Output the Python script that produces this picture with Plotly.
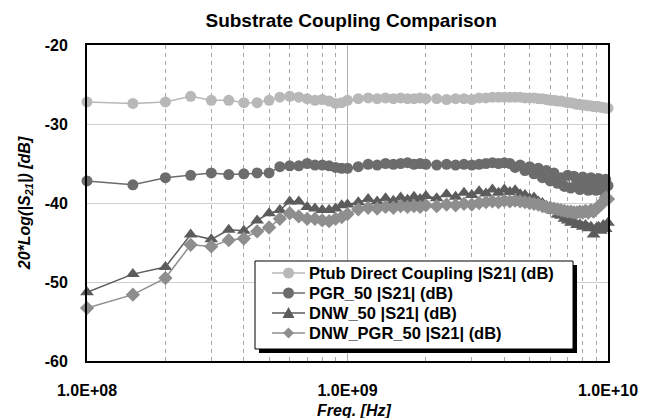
import plotly.graph_objects as go

freq_hz = [1.0e8, 1.5e8, 2.0e8, 2.5e8, 3.0e8, 3.5e8, 4.0e8, 4.5e8, 5.0e8, 5.5e8,
           6.0e8, 6.5e8, 7.0e8, 7.5e8, 8.0e8, 8.5e8, 9.0e8, 9.5e8, 1.0e9,
           1.1e9, 1.2e9, 1.3e9, 1.4e9, 1.5e9, 1.6e9, 1.7e9, 1.8e9, 1.9e9, 2.0e9,
           2.2e9, 2.4e9, 2.6e9, 2.8e9, 3.0e9, 3.2e9, 3.4e9, 3.6e9, 3.8e9, 4.0e9,
           4.2e9, 4.4e9, 4.6e9, 4.8e9, 5.0e9, 5.2e9, 5.4e9, 5.6e9, 5.8e9, 6.0e9,
           6.2e9, 6.4e9, 6.6e9, 6.8e9, 7.0e9, 7.2e9, 7.4e9, 7.6e9, 7.8e9, 8.0e9,
           8.2e9, 8.4e9, 8.6e9, 8.8e9, 9.0e9, 9.2e9, 9.4e9, 9.6e9, 9.8e9, 1.0e10]

ptub = [-27.2, -27.4, -27.2, -26.5, -27.0, -27.0, -27.3, -27.3, -27.0, -26.6,
        -26.5, -26.6, -26.8, -27.0, -26.9, -27.1, -27.4, -27.3, -27.0,
        -26.8, -26.7, -26.8, -26.7, -26.8, -26.7, -26.8, -26.8, -26.7, -26.8,
        -26.8, -26.9, -26.8, -26.8, -26.9, -26.7, -26.7, -26.6, -26.6, -26.6,
        -26.6, -26.6, -26.6, -26.7, -26.7, -26.7, -26.8, -26.8, -26.9, -27.0,
        -27.0, -27.1, -27.1, -27.2, -27.3, -27.3, -27.4, -27.5, -27.5, -27.6,
        -27.6, -27.7, -27.7, -27.8, -27.8, -27.8, -27.9, -27.9, -28.0, -28.0]

pgr50 = [-37.2, -37.7, -36.8, -36.5, -36.2, -36.4, -36.3, -36.2, -36.2, -35.4,
         -35.3, -35.3, -35.0, -35.2, -35.2, -35.3, -35.5, -35.6, -35.6,
         -35.4, -35.1, -35.2, -35.0, -35.1, -35.0, -34.9, -35.1, -35.0, -35.1,
         -35.2, -35.1, -35.2, -35.1, -35.2, -35.1, -35.0, -34.9, -35.0, -34.9,
         -35.0, -35.5, -35.2, -35.9, -35.4, -36.3, -35.6, -36.8, -35.9, -37.2,
         -36.2, -37.5, -36.8, -37.9, -36.5, -38.1, -36.6, -37.5, -38.3, -36.7,
         -37.6, -38.4, -36.8, -37.7, -38.4, -36.9, -37.8, -38.5, -37.0, -37.8]

dnw50 = [-51.3, -49.0, -48.1, -44.0, -44.6, -43.4, -43.5, -42.2, -41.3, -40.9,
         -39.8, -39.8, -40.5, -40.7, -40.9, -40.9, -40.7, -40.3, -40.2,
         -39.9, -39.5, -39.8, -39.4, -39.7, -39.3, -39.6, -39.2, -39.5, -39.1,
         -39.4, -38.9, -39.2, -38.7, -39.0, -38.5, -38.8, -38.3, -38.7, -38.3,
         -38.6, -38.4, -38.9, -39.0, -39.4, -39.3, -39.8, -40.0, -40.4, -40.8,
         -41.0, -41.5, -41.6, -42.0, -42.2, -42.5, -42.4, -42.8, -42.7, -43.0,
         -42.8, -43.2, -43.0, -44.0, -43.2, -43.0, -43.5, -42.8, -43.3, -42.5]

dnw_pgr50 = [-53.3, -51.6, -49.5, -45.3, -45.5, -44.7, -44.5, -43.6, -43.1, -42.0,
             -41.3, -41.7, -42.0, -42.0, -42.2, -42.3, -42.0, -41.8, -41.4,
             -40.8, -40.6, -40.7, -40.5, -40.6, -40.4, -40.5, -40.4, -40.5, -40.3,
             -40.4, -40.2, -40.3, -40.1, -40.2, -40.0, -39.9, -39.8, -39.9, -39.7,
             -39.8, -39.7, -39.8, -39.9, -40.0, -40.1, -40.2, -40.4, -40.5, -40.6,
             -40.7, -40.8, -40.9, -41.0, -41.1, -41.1, -41.2, -41.2, -41.1, -41.2,
             -41.0, -41.2, -40.9, -41.1, -40.7, -40.5, -40.2, -39.8, -39.3, -39.5]

series_names = ["Ptub Direct Coupling |S21| (dB)", "PGR_50 |S21| (dB)",
                "DNW_50 |S21| (dB)", "DNW_PGR_50 |S21| (dB)"]

x_tickvals = [1e8, 1e9, 1e10]
x_ticktext = ["1.0E+08", "1.0E+09", "1.0E+10"]
x_minorvals = [2e8, 3e8, 4e8, 5e8, 6e8, 7e8, 8e8, 9e8,
               2e9, 3e9, 4e9, 5e9, 6e9, 7e9, 8e9, 9e9]
y_tickvals = [-60, -50, -40, -30, -20]
y_ticktext = ["-60", "-50", "-40", "-30", "-20"]

FONT = "Liberation Sans, Arial, sans-serif"

styles = [
    dict(color="#b8b8b8", symbol="circle", size=11),
    dict(color="#6c6c6c", symbol="circle", size=11),
    dict(color="#5c5c5c", symbol="triangle-up", size=12),
    dict(color="#8e8e8e", symbol="diamond", size=11),
]

fig = go.Figure()
for name, ys, st in zip(series_names, [ptub, pgr50, dnw50, dnw_pgr50], styles):
    fig.add_trace(go.Scatter(
        x=freq_hz, y=ys, name=name, mode="lines+markers",
        line=dict(color=st["color"], width=1.5),
        marker=dict(color=st["color"], symbol=st["symbol"], size=st["size"],
                    line=dict(width=0)),
        cliponaxis=False, showlegend=False,
    ))

# ---- legend box (drawn as decoration) ----
PL, PT, PW, PH = 87, 45, 521, 316   # plot area in px


def px_x(px):
    return (px - PL) / PW


def px_y(py):
    return (PT + PH - py) / PH


fig.add_shape(type="rect", xref="paper", yref="paper",
              x0=px_x(259), x1=px_x(577), y0=px_y(353), y1=px_y(265),
              fillcolor="black", line=dict(width=0), layer="above")
fig.add_shape(type="rect", xref="paper", yref="paper",
              x0=px_x(255), x1=px_x(573), y0=px_y(349), y1=px_y(261),
              fillcolor="white", line=dict(color="black", width=1), layer="above")

marker_paths = {
    "triangle-up": "M -6,-5 L 6,-5 L 0,6 Z",
    "diamond": "M 0,5.5 L 5.5,0 L 0,-5.5 L -5.5,0 Z",
}
for i, (name, st) in enumerate(zip(series_names, styles)):
    yc = px_y(273 + 20 * i)
    fig.add_shape(type="line", xref="paper", yref="paper",
                  x0=px_x(272), x1=px_x(305), y0=yc, y1=yc,
                  line=dict(color=st["color"], width=1.5), layer="above")
    common = dict(xref="paper", yref="paper", xsizemode="pixel", ysizemode="pixel",
                  xanchor=px_x(288.5), yanchor=yc, fillcolor=st["color"],
                  line=dict(width=0), layer="above")
    if st["symbol"] == "circle":
        fig.add_shape(type="circle", x0=-5.5, x1=5.5, y0=-5.5, y1=5.5, **common)
    else:
        fig.add_shape(type="path", path=marker_paths[st["symbol"]], **common)
    fig.add_annotation(text=name, xref="paper", yref="paper",
                       x=px_x(307), y=yc, xanchor="left", yanchor="middle",
                       showarrow=False,
                       font=dict(family=FONT, size=16.5, weight="bold", color="black"))

# x-axis title
fig.add_annotation(text="Freq. [Hz]", xref="paper", yref="paper",
                   x=px_x(354), y=px_y(410), xanchor="center", yanchor="middle",
                   showarrow=False,
                   font=dict(family=FONT, size=16, weight="bold", style="italic",
                             color="black"))

fig.update_layout(
    width=650, height=418,
    margin=dict(l=87, r=42, t=45, b=57),
    paper_bgcolor="white", plot_bgcolor="white",
    font=dict(family=FONT, color="black", size=16),
    title=dict(text="Substrate Coupling Comparison", x=0.507, xref="paper",
               y=1 - 20 / 418, yref="container", yanchor="middle", xanchor="center",
               font=dict(family=FONT, size=19, weight="bold", color="black")),
    showlegend=False,
    xaxis=dict(
        type="log", range=[8, 10], automargin=False,
        tickvals=x_tickvals, ticktext=x_ticktext, ticks="",
        ticklabelstandoff=14,
        tickfont=dict(family=FONT, size=16, weight="bold"),
        showgrid=True, gridcolor="#b0b0b0", gridwidth=1,
        minor=dict(tickvals=x_minorvals, showgrid=True, gridcolor="#a8a8a8",
                   griddash="4px,4px", gridwidth=1, ticks=""),
        showline=True, linecolor="black", linewidth=2, mirror=True,
        zeroline=False,
    ),
    yaxis=dict(
        range=[-60, -20], tickvals=y_tickvals, ticktext=y_ticktext,
        ticks="", automargin=False,
        ticklabelstandoff=14,
        tickfont=dict(family=FONT, size=16, weight="bold"),
        showgrid=True, gridcolor="#d0d0d0", gridwidth=1,
        showline=True, linecolor="black", linewidth=2, mirror=True,
        zeroline=False,
        title=dict(text="20*Log(|S<sub>21</sub>|) [dB]", standoff=10,
                   font=dict(family=FONT, size=16, weight="bold", style="italic")),
    ),
)

fig.write_html("out.html")
